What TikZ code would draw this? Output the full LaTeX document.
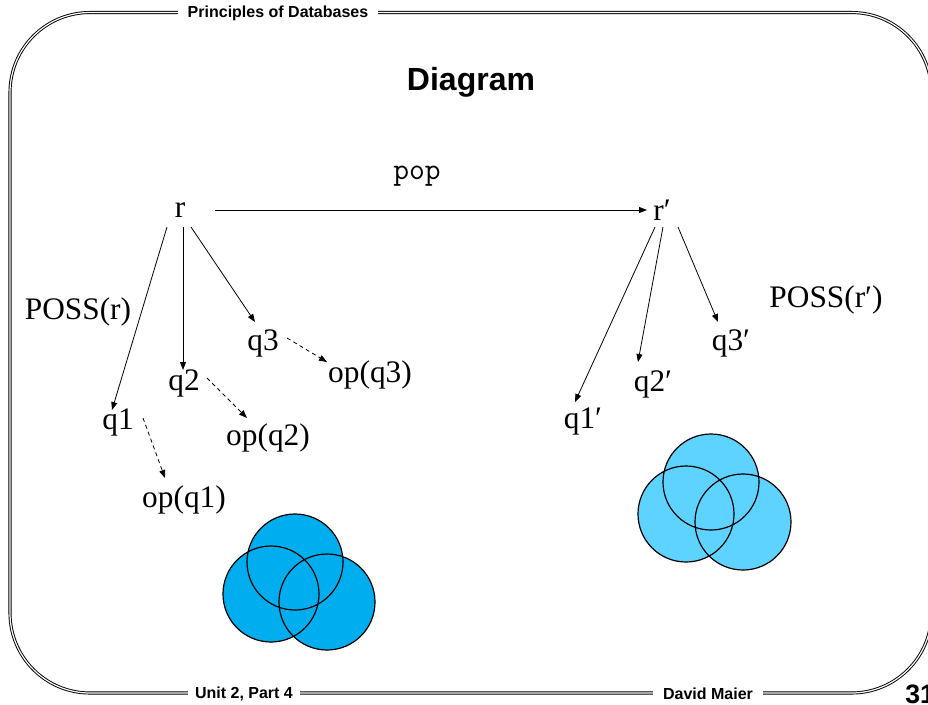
\documentclass[tikz,border=0pt]{standalone}
\usepackage{fontspec}
\setmainfont{Liberation Serif}
\newfontfamily\arialfont{Liberation Sans}
\usetikzlibrary{arrows.meta}
\definecolor{venndark}{RGB}{0,174,239}
\definecolor{vennlight}{RGB}{94,211,255}
\begin{document}
\begin{tikzpicture}[x=0.75pt,y=-0.75pt,
  lbl/.style={font=\fontsize{23.5}{28}\selectfont, inner sep=0pt},
  arr/.style={-{Triangle[length=6pt,width=4.5pt]}, line width=0.6pt},
  darr/.style={arr, dash pattern=on 3pt off 2.5pt},
  frame/.style={double, line width=0.7pt, double distance=0.9pt},
  hdr/.style={font=\arialfont\bfseries\fontsize{12}{14}\selectfont, fill=white, inner ysep=3pt},
  venn/.style={line width=0.9pt}]
\useasboundingbox (0,0) rectangle (928,704);
% frame
\draw[frame, rounded corners=60pt] (10,12.5) rectangle (931.5,693);
\node[hdr, inner xsep=7pt] (hd) at (278,13) {Principles of Databases};
\node[hdr, inner xsep=5pt] (ft1) at (244,693.5) {Unit 2, Part 4};
\node[hdr, inner xsep=7.5pt] (ft2) at (708,693.5) {David Maier};
\node[font=\arialfont\bfseries\fontsize{20}{24}\selectfont, anchor=base west, inner sep=0pt] (pg) at (905,703) {31};
\node[font=\arialfont\bfseries\fontsize{24}{28}\selectfont, anchor=base, inner sep=0pt] (title) at (471,90) {Diagram};
% left tree
\node[lbl] (r) at (180,210) {r};
\node[lbl] (possr) at (78,312) {POSS(r)};
\node[lbl] (q1) at (118,422) {q1};
\node[lbl] (q2) at (184,383) {q2};
\node[lbl] (q3) at (263,343) {q3};
\node[lbl] (opq1) at (184,500) {op(q1)};
\node[lbl] (opq2) at (268,438) {op(q2)};
\node[lbl] (opq3) at (370,375) {op(q3)};
% right tree
\node[lbl] (rp) at (662,210) {r′};
\node[lbl] (possrp) at (826,300) {POSS(r′)};
\node[lbl] (q1p) at (583,421) {q1′};
\node[lbl] (q2p) at (653,384) {q2′};
\node[lbl] (q3p) at (731,343) {q3′};
\node[font=\ttfamily\fontsize{23}{26}\selectfont, inner sep=0pt] (pop) at (417,176) {pop};
% connectors
\draw[arr] ([shift={(35,0)}]r.center) -- ([shift={(-15,0)}]rp.center);
\draw[arr] ([shift={(-13,17)}]r.center) -- ([shift={(-6,-12)}]q1.center);
\draw[arr] ([shift={(3,17)}]r.center) -- ([shift={(-1,-13)}]q2.center);
\draw[arr] ([shift={(11,17)}]r.center) -- ([shift={(-8,-21)}]q3.center);
\draw[darr] ([shift={(24,-5)}]q3.center) -- ([shift={(-43,-13)}]opq3.center);
\draw[darr] ([shift={(23,-5)}]q2.center) -- ([shift={(-21,-20)}]opq2.center);
\draw[darr] ([shift={(25,-4)}]q1.center) -- ([shift={(-19,-22)}]opq1.center);
\draw[arr] ([shift={(-7,17)}]rp.center) -- ([shift={(-8,-19)}]q1p.center);
\draw[arr] ([shift={(1,17)}]rp.center) -- ([shift={(-15,-22)}]q2p.center);
\draw[arr] ([shift={(16,17)}]rp.center) -- ([shift={(-13,-21)}]q3p.center);
% venn left
\fill[venndark] (295,562) circle[radius=36pt] (271,594) circle[radius=36pt] (327,602) circle[radius=36pt];
\draw[venn] (295,562) circle[radius=36pt] (271,594) circle[radius=36pt] (327,602) circle[radius=36pt];
% venn right
\fill[vennlight] (711,482) circle[radius=36pt] (686,514) circle[radius=36pt] (743,522) circle[radius=36pt];
\draw[venn] (711,482) circle[radius=36pt] (686,514) circle[radius=36pt] (743,522) circle[radius=36pt];
\end{tikzpicture}
\end{document}
